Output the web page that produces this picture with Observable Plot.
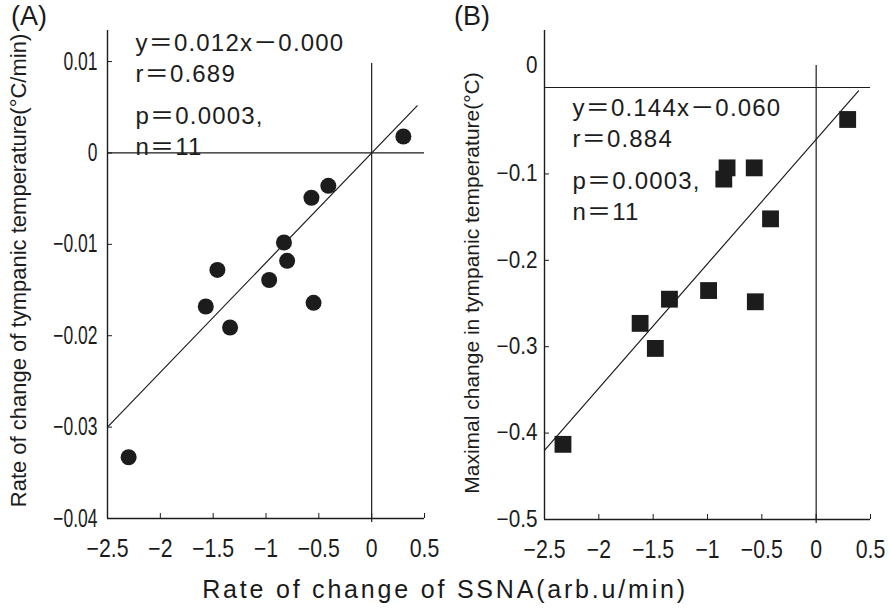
<!DOCTYPE html>
<html>
<head>
<meta charset="utf-8">
<script src="https://cdn.jsdelivr.net/npm/d3@7"></script>
<script src="https://cdn.jsdelivr.net/npm/@observablehq/plot@0.6"></script>
<style>
  body { margin: 0; background: #fff; }
  #wrap { position: relative; width: 890px; height: 610px; overflow: hidden;
          font-family: "Liberation Sans", Arial, "Noto Sans CJK KR", sans-serif; color: #1a1a1a; }
  .panel { position: absolute; top: 0; }
  .plab { position: absolute; top: 1px; font-size: 27px; line-height: 30px; }
  #xtitle { position: absolute; left: 0; width: 890px; text-align: center; top: 574px;
            font-size: 25px; line-height: 30px; letter-spacing: 2.8px; }
</style>
</head>
<body>
<div id="wrap">
  <div id="pa" class="panel" style="left:0"></div>
  <div id="pb" class="panel" style="left:445px"></div>
  <div class="plab" style="left:11px">(A)</div>
  <div class="plab" style="left:454px">(B)</div>
  <div id="xtitle">Rate of change of SSNA(arb.u/min)</div>
</div>
<script>
// ---- data ----
const xTicks = [-2.5, -2, -1.5, -1, -0.5, 0, 0.5];
const xDomain = [-2.5, 0.5];

// Panel A: rate of change of tympanic temperature
const ssnaA = [0.30, -0.41, -0.57, -0.83, -0.80, -0.97, -1.46, -1.57, -0.55, -1.34, -2.30];
const tempRateA = [0.0018, -0.0036, -0.0049, -0.0098, -0.0118, -0.0139, -0.0128, -0.0168, -0.0164, -0.0191, -0.0333];
const yTicksA = [0.01, 0, -0.01, -0.02, -0.03, -0.04];
const yDomainA = [-0.04, 0.0134];
const slopeA = 0.012, interceptA = 0.000;
const fitExtentA = [-2.5, 0.43];
const statsA = ["y\uFF1D0.012x\uFF0D0.000\nr\uFF1D0.689", "p\uFF1D0.0003,\nn\uFF1D11"];
const yTitleA = "Rate of change of tympanic temperature(°C/min)";

// Panel B: maximal change in tympanic temperature
const ssnaB = [0.29, -0.82, -0.85, -0.57, -0.42, -0.99, -1.35, -0.56, -1.62, -1.48, -2.33];
const tempMaxB = [-0.037, -0.093, -0.106, -0.093, -0.152, -0.235, -0.245, -0.248, -0.273, -0.302, -0.413];
const yTicksB = [0, -0.1, -0.2, -0.3, -0.4, -0.5];
const yDomainB = [-0.5, 0.066];
const slopeB = 0.144, interceptB = -0.060;
const fitExtentB = [-2.5, 0.39];
const statsB = ["y\uFF1D0.144x\uFF0D0.060\nr\uFF1D0.884", "p\uFF1D0.0003,\nn\uFF1D11"];
const yTitleB = "Maximal change in tympanic temperature(°C)";

// ---- helpers ----
const ink = "#1c1c1c";
const sans = "'Liberation Sans', Arial, 'Noto Sans CJK KR', sans-serif";
const fmt = d3.format("~g");
const pts = (xs, ys) => xs.map((x, i) => ({x, y: ys[i]}));
const fitLine = (ext, m, b) => ext.map(x => ({x, y: m * x + b}));

function panel({points, yDomain, yTicks, zeroLabelDy, fit, stats, yTitle, symbol, r, marginLeft, marginRight,
                marginBottom, yTickFont, yPad, titleDx, titleDy, titleFont, zeroTop, statsDx, statsDy}) {
  const main = zeroLabelDy ? yTicks.filter(d => d !== 0) : yTicks;
  const marks = [
    Plot.ruleX([xDomain[0]], {stroke: ink, strokeWidth: 1.4}),
    Plot.ruleY([yDomain[0]], {stroke: ink, strokeWidth: 1.4}),
    Plot.ruleX([0], {stroke: ink, strokeWidth: 1.2, insetTop: zeroTop, insetBottom: -4}),
    Plot.ruleY([0], {stroke: ink, strokeWidth: 1.2}),
    Plot.axisX(xTicks, {tickSize: -5, tickPadding: 26, tickFormat: fmt, fontSize: 25, label: null, stroke: ink, fill: ink}),
    Plot.axisY(main, {tickSize: -5, tickPadding: yPad, tickFormat: fmt, fontSize: yTickFont, label: null, stroke: ink, fill: ink})
  ];
  if (zeroLabelDy) marks.push(
    Plot.axisY([0], {tickSize: 0, tickPadding: yPad - 5, tickFormat: fmt, fontSize: yTickFont, label: null, dy: zeroLabelDy, fill: ink})
  );
  marks.push(
    Plot.line(fit, {x: "x", y: "y", stroke: ink, strokeWidth: 1.2}),
    Plot.dot(points, {x: "x", y: "y", r, symbol, fill: ink, stroke: "none"}),
    Plot.text([stats[0]], {frameAnchor: "top-left", textAnchor: "start", lineAnchor: "top", dx: statsDx, dy: statsDy[0], fontSize: 24, lineHeight: 1.3, fill: ink}),
    Plot.text([stats[1]], {frameAnchor: "top-left", textAnchor: "start", lineAnchor: "top", dx: statsDx, dy: statsDy[1], fontSize: 24, lineHeight: 1.3, fill: ink}),
    Plot.text([yTitle], {frameAnchor: "left", textAnchor: "middle", rotate: -90, dx: titleDx, dy: titleDy, fontSize: titleFont, fill: ink})
  );
  return Plot.plot({
    width: 445, height: 560,
    marginLeft, marginRight, marginTop: 30, marginBottom,
    style: {fontFamily: sans, color: ink, background: "transparent", overflow: "visible"},
    x: {domain: xDomain},
    y: {domain: yDomain},
    marks
  });
}

// condense tick labels horizontally, like the narrow type of the original
function condense(svg, sel, k) {
  d3.select(svg).selectAll(sel).each(function() {
    const len = this.getComputedTextLength();
    if (len > 0) {
      this.setAttribute("textLength", (len * k).toFixed(1));
      this.setAttribute("lengthAdjust", "spacingAndGlyphs");
    }
  });
}
function spaceStats(svg) {
  d3.select(svg).selectAll('g[font-size="24"] text').style("letter-spacing", "1.2px");
}

const svgA = panel({
  points: pts(ssnaA, tempRateA), yDomain: yDomainA, yTicks: yTicksA, zeroLabelDy: 0,
  fit: fitLine(fitExtentA, slopeA, interceptA), stats: statsA, yTitle: yTitleA,
  symbol: "circle", r: 8, marginLeft: 107, marginRight: 21, marginBottom: 42,
  yTickFont: 25, yPad: 15, titleDx: -89, titleDy: -4, titleFont: 22, zeroTop: 33,
  statsDx: 28, statsDy: [-2, 71]
});
document.getElementById("pa").append(svgA);

const svgB = panel({
  points: pts(ssnaB, tempMaxB), yDomain: yDomainB, yTicks: yTicksB, zeroLabelDy: -22,
  fit: fitLine(fitExtentB, slopeB, interceptB), stats: statsB, yTitle: yTitleB,
  symbol: "square", r: 9.5, marginLeft: 99, marginRight: 20, marginBottom: 41,
  yTickFont: 23, yPad: 12, titleDx: -72, titleDy: 8, titleFont: 21, zeroTop: 35,
  statsDx: 28, statsDy: [63, 136]
});
document.getElementById("pb").append(svgB);

condense(svgA, 'g[aria-label="y-axis tick label"] text', 0.7);
condense(svgA, 'g[aria-label="x-axis tick label"] text', 0.85);
condense(svgB, 'g[aria-label="y-axis tick label"] text', 0.9);
condense(svgB, 'g[aria-label="x-axis tick label"] text', 0.85);
spaceStats(svgA);
spaceStats(svgB);
</script>
</body>
</html>
